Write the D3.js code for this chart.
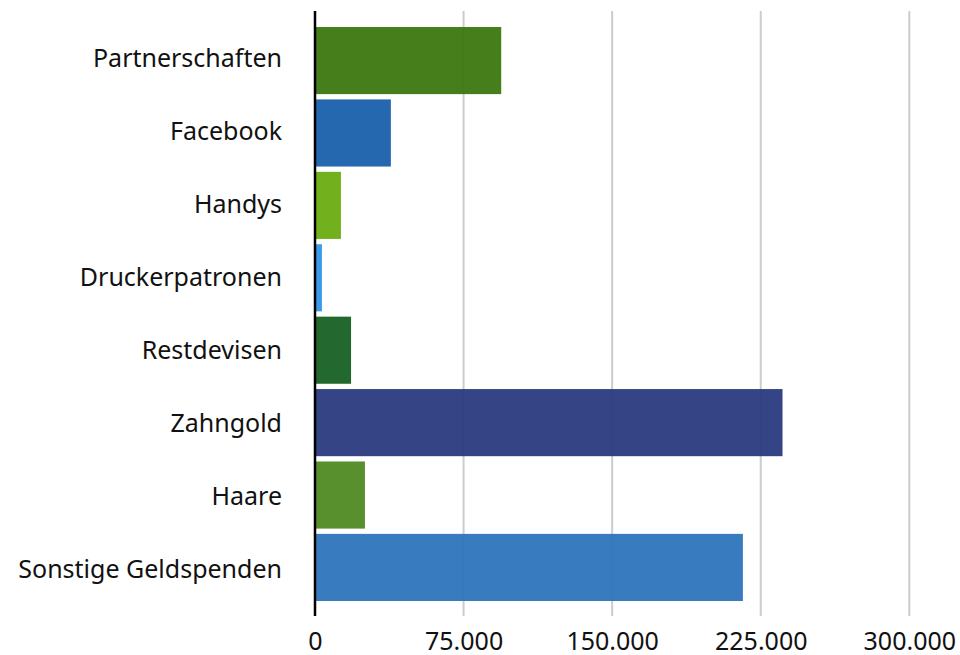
<!DOCTYPE html>
<html><head><meta charset="utf-8">
<script src="https://cdn.jsdelivr.net/npm/d3@7"></script>
<style>body{margin:0;background:#fff}</style></head>
<body><svg id="c" width="960" height="655"></svg>
<script>
const categories=["Partnerschaften","Facebook","Handys","Druckerpatronen","Restdevisen","Zahngold","Haare","Sonstige Geldspenden"];
const values=[94000,38300,13100,3500,18200,236000,25200,216000];
const colors=["#3a760e","#175fab","#69ab10","#3195e8","#156022","#28387c","#4d891f","#2d73bb"];
const ticks=[0,75000,150000,225000,300000];

const svg=d3.select("#c");
const font="'Noto Sans', 'Open Sans', sans-serif";
const x=d3.scaleLinear().domain([0,300000]).range([315,909.3]);
const y=d3.scaleBand().domain(categories).range([27,601]).paddingInner(0.073).paddingOuter(0);
const yl=d3.scalePoint().domain(categories).range([57,568.3]);
const fmt=v=>d3.format(",")(v).replace(/,/g,".");

// gridlines
svg.append("g").selectAll("line").data(ticks.slice(1)).join("line")
  .attr("x1",d=>x(d)).attr("x2",d=>x(d)).attr("y1",11).attr("y2",616)
  .attr("stroke","#cccccc").attr("stroke-width",2);

// bars
svg.append("g").selectAll("rect").data(values).join("rect")
  .attr("x",x(0)).attr("y",(d,i)=>y(categories[i]))
  .attr("width",d=>x(d)-x(0)).attr("height",y.bandwidth())
  .attr("fill",(d,i)=>colors[i]).attr("fill-opacity",0.94);

// y axis line
svg.append("line").attr("x1",x(0)).attr("x2",x(0)).attr("y1",11).attr("y2",616)
  .attr("stroke","#000").attr("stroke-width",2.5);

// x axis labels
const xa=d3.axisBottom(x).tickValues(ticks).tickFormat(fmt).tickSize(0).tickPadding(0);
const gx=svg.append("g").call(xa);
gx.select(".domain").remove();
gx.selectAll("text").attr("y",650).attr("dy",null)
  .style("font-family",font).style("font-size","25px").attr("fill","#111");

// y labels
const ya=d3.axisLeft(yl).tickSize(0).tickPadding(0);
const gy=svg.append("g").attr("transform","translate(282,0)").call(ya);
gy.select(".domain").remove();
gy.selectAll("text").attr("x",0).attr("dy",null).attr("y",9)
  .style("font-family",font).style("font-size","25px").attr("fill","#111");
</script></body></html>
